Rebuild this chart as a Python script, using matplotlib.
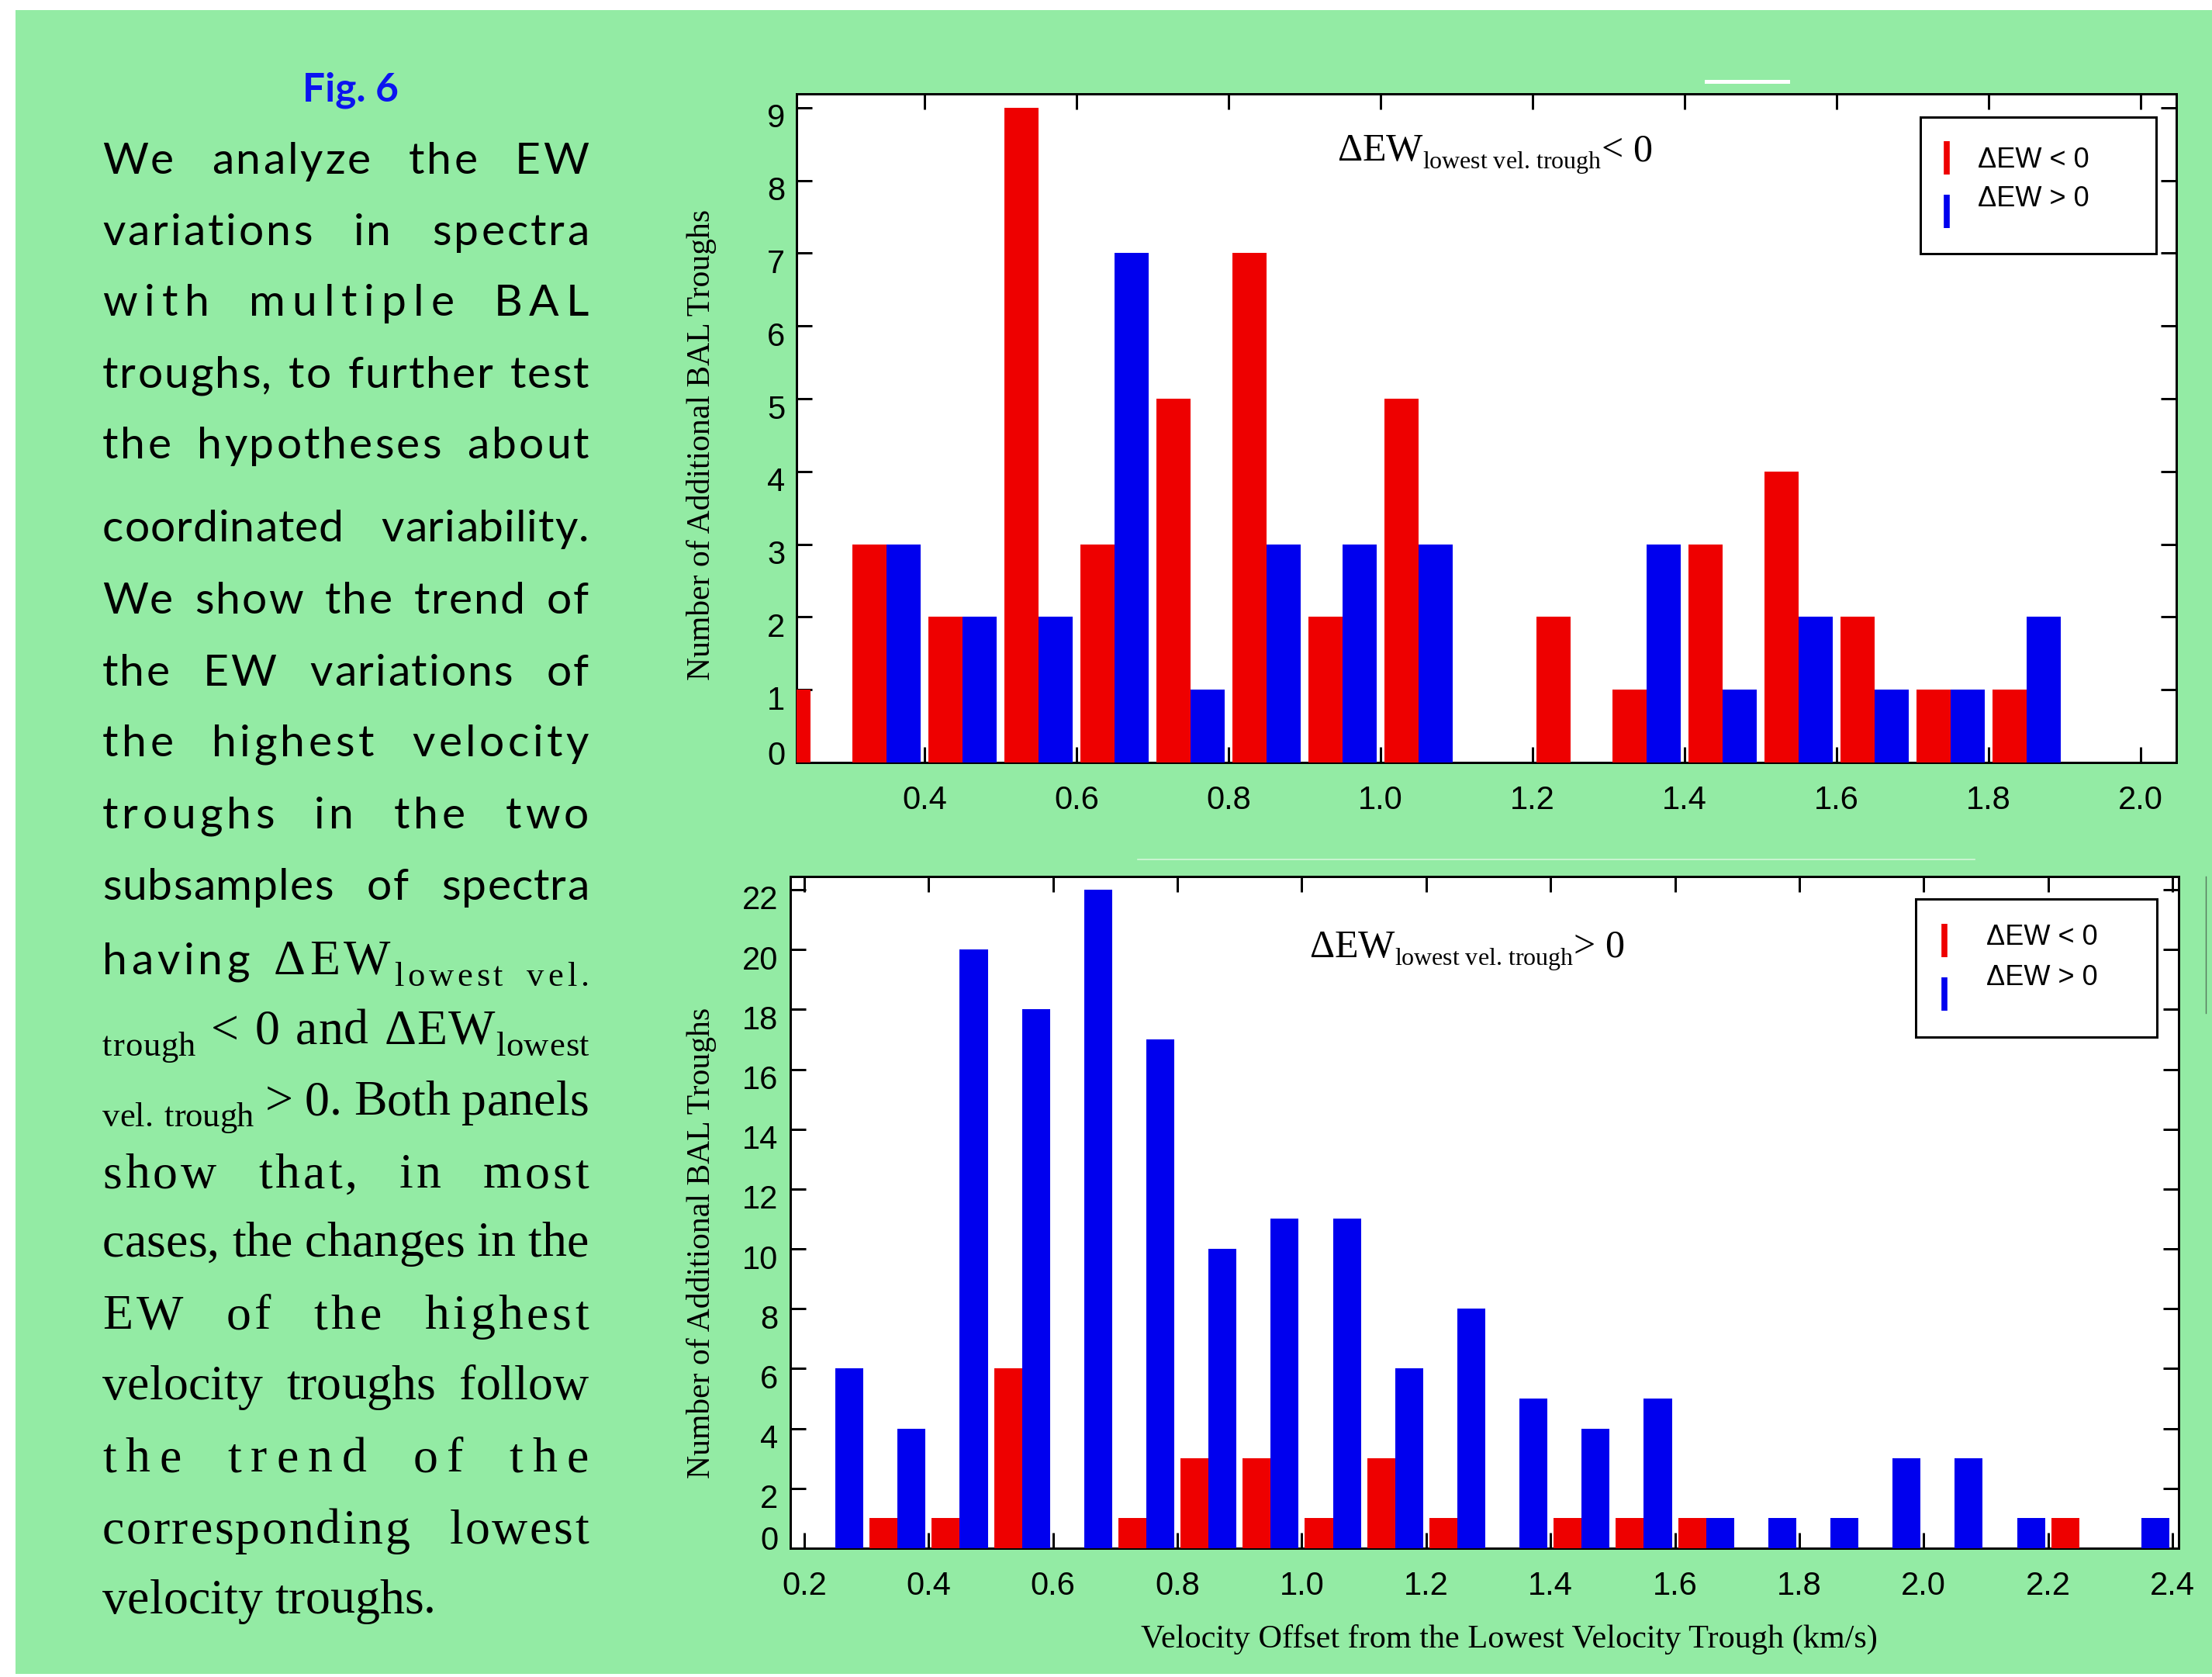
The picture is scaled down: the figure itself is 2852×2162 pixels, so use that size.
import matplotlib
matplotlib.use('Agg')
import matplotlib.pyplot as plt
import numpy as np
from matplotlib.transforms import Affine2D, ScaledTranslation
from matplotlib.patches import Rectangle
from matplotlib.lines import Line2D
from matplotlib import font_manager as fm
from matplotlib.ft2font import FT2Font

# ---- data ----
top_centers = [0.25, 0.35, 0.45, 0.55, 0.65, 0.75, 0.85, 0.95, 1.05,
               1.15, 1.25, 1.35, 1.45, 1.55, 1.65, 1.75, 1.85, 1.95]
top_neg = [1, 3, 2, 9, 3, 5, 7, 2, 5, 0, 2, 1, 3, 4, 2, 1, 1, 0]
top_pos = [0, 3, 2, 2, 7, 1, 3, 3, 3, 0, 0, 3, 1, 2, 1, 1, 2, 0]

bot_centers = [0.25, 0.35, 0.45, 0.55, 0.65, 0.75, 0.85, 0.95, 1.05, 1.15, 1.25,
               1.35, 1.45, 1.55, 1.65, 1.75, 1.85, 1.95, 2.05, 2.15, 2.25, 2.35]
bot_neg = [0, 1, 1, 6, 0, 1, 3, 3, 1, 3, 1, 0, 1, 1, 1, 0, 0, 0, 0, 0, 1, 0]
bot_pos = [6, 4, 20, 18, 22, 17, 10, 11, 11, 6, 8, 5, 4, 5, 1, 1, 1, 3, 3, 1, 0, 1]

top_xticks = [0.4, 0.6, 0.8, 1.0, 1.2, 1.4, 1.6, 1.8, 2.0]
top_yticks = [0, 1, 2, 3, 4, 5, 6, 7, 8, 9]
bot_xticks = [0.2, 0.4, 0.6, 0.8, 1.0, 1.2, 1.4, 1.6, 1.8, 2.0, 2.2, 2.4]
bot_yticks = [0, 2, 4, 6, 8, 10, 12, 14, 16, 18, 20, 22]

legend_labels = ['\u0394EW < 0', '\u0394EW > 0']
ylabel = 'Number of Additional BAL Troughs'
xlabel = 'Velocity Offset from the Lowest Velocity Trough (km/s)'

RED = '#ee0000'
BLUE = '#0000ee'
GREEN = '#93eba4'
bw = 0.045

W, H = 2852, 2162
fig = plt.figure(figsize=(W / 100, H / 100), dpi=100, facecolor='white')
# pixel coords, origin top-left
px = Affine2D().scale(1 / W, -1 / H).translate(0, 1) + fig.transFigure

fig.add_artist(Rectangle((20, 13), W - 20, H - 17, transform=px,
                         facecolor=GREEN, edgecolor='none', zorder=-5))
# small artefacts of the original slide
fig.add_artist(Line2D([2200, 2305], [105, 105], transform=px, color='white', lw=3.6))
fig.add_artist(Line2D([1467, 2546], [1108, 1108], transform=px, color='#d4f7da', lw=1.2))
fig.add_artist(Line2D([2844, 2844], [1130, 1306], transform=px, color='#55775c', lw=1.0))


def style_axes(ax, xticks, yticks, xlim, ylim, ypad):
    ax.set_xlim(*xlim)
    ax.set_ylim(*ylim)
    ax.set_xticks(xticks)
    ax.set_xticklabels(['%.1f' % v for v in xticks])
    ax.set_yticks(yticks)
    ax.set_yticklabels([str(v) for v in yticks])
    ax.tick_params(direction='in', length=14.4, width=2.16, top=True, right=True,
                   labelsize=30, labelfontfamily='Liberation Sans')
    ax.tick_params(axis='x', pad=21.0)
    ax.tick_params(axis='y', pad=ypad)
    for s in ax.spines.values():
        s.set_linewidth(2.16)
    for lab in ax.get_yticklabels():
        dy = 13 if lab.get_text() == '0' else -10
        lab.set_transform(lab.get_transform() + ScaledTranslation(0, dy / 100, fig.dpi_scale_trans))


ax1 = fig.add_axes([1027 / W, (H - 983) / H, 1779 / W, 862 / H])
ax1.bar(np.array(top_centers) - bw, top_neg, width=bw, align='edge', color=RED, zorder=3)
ax1.bar(np.array(top_centers), top_pos, width=bw, align='edge', color=BLUE, zorder=3)
style_axes(ax1, top_xticks, top_yticks, (0.2316, 2.047), (0, 9.19), 10.5)

ax2 = fig.add_axes([1019 / W, (H - 1996) / H, 1790 / W, 866 / H])
ax2.bar(np.array(bot_centers) - bw, bot_neg, width=bw, align='edge', color=RED, zorder=3)
ax2.bar(np.array(bot_centers), bot_pos, width=bw, align='edge', color=BLUE, zorder=3)
style_axes(ax2, bot_xticks, bot_yticks, (0.1776, 2.410), (0, 22.44), 11.5)

_fonts = {}


def adv(ch, fam, size):
    if fam not in _fonts:
        _fonts[fam] = FT2Font(fm.findfont(fm.FontProperties(family=fam)), hinting_factor=1)
    f = _fonts[fam]
    f.set_size(size, 100)
    return f.load_char(ord(ch)).linearHoriAdvance / 65536


def draw_runs(x, y, runs):
    # runs: (text, family, size, baseline shift in px)
    for text, fam, size, dy in runs:
        for c in text:
            fig.text(x, y + dy, c, transform=px, ha='left', va='baseline',
                     family=fam, fontsize=size, color='black')
            x += adv(c, fam, size)


SER = 'Liberation Serif'
# titles inside panels
draw_runs(1724, 207, [('\u0394EW', SER, 36, 0), ('lowest vel. trough', SER, 23, 10),
                      ('<', SER, 36, 0), (' 0', SER, 36, 0)])
draw_runs(1688, 1234, [('\u0394EW', SER, 36, 0), ('lowest vel. trough', SER, 23, 10),
                       ('>', SER, 36, 0), (' 0', SER, 36, 0)])

# axis labels
for yc in (573, 1602):
    fig.text(905, yc, ylabel, transform=px, rotation=90, ha='center', va='center',
             family=SER, fontsize=30)
fig.text(1946, 2124, xlabel, transform=px, ha='center', va='baseline',
         family=SER, fontsize=30.4)


def legend(box, mx, marks, tx, tys):
    x0, y0, x1, y1 = box
    fig.add_artist(Rectangle((x0, y0), x1 - x0, y1 - y0, transform=px, facecolor='white',
                             edgecolor='black', lw=2.16, zorder=5))
    for (m0, m1), col in zip(marks, (RED, BLUE)):
        fig.add_artist(Line2D([mx, mx], [m0, m1], transform=px, color=col, lw=5.5,
                              solid_capstyle='butt', zorder=6))
    for ty, lab in zip(tys, legend_labels):
        fig.text(tx, ty, lab, transform=px, ha='left', va='center', fontsize=26,
                 family='Liberation Sans', zorder=6)


legend((2476, 151, 2780, 327), 2510, [(182, 225), (251, 294)], 2550, [207, 257])
legend((2470, 1159, 2781, 1337), 2507, [(1191, 1234), (1260, 1303)], 2561, [1208, 1260])

# ---- left text column ----
fig.text(452, 130, 'Fig. 6', transform=px, ha='center', va='baseline', fontsize=37,
         fontweight='bold', family='Lato', color='#0b14f0')

STY = {
    'sans': ('Lato', 41, 0),
    'serif': (SER, 46, 0),
    'sub': (SER, 32, 15),
}

LINES = [
    (224, 3, 'sans', "We analyze the EW"),
    (316, 3, 'sans', "variations in spectra"),
    (407, 9, 'sans', "with multiple BAL"),
    (500, 2, 'sans', "troughs, to further test"),
    (591, 3, 'sans', "the hypotheses about"),
    (698, 1, 'sans', "coordinated variability."),
    (791, 2, 'sans', "We show the trend of"),
    (884, 2, 'sans', "the EW variations of"),
    (975, 4.5, 'sans', "the highest velocity"),
    (1068, 5, 'sans', "troughs in the two"),
    (1160, 1, 'sans', "subsamples of spectra"),
    (1256, 5, None, [[("having", 'sans')], [("\u0394EW", 'serif'), ("lowest", 'sub')],
                     [("vel.", 'sub')]]),
    (1346, 1, None, [[("trough", 'sub')], [("<", 'serif')], [("0", 'serif')],
                     [("and", 'serif')], [("\u0394EW", 'serif'), ("lowest", 'sub')]]),
    (1437, 0, None, [[("vel.", 'sub')], [("trough", 'sub')], [(">", 'serif')],
                     [("0.", 'serif')], [("Both", 'serif')], [("panels", 'serif')]]),
    (1531, 4, 'serif', "show that, in most"),
    (1619, 0, 'serif', "cases, the changes in the"),
    (1713, 4.5, 'serif', "EW of the highest"),
    (1804, 0, 'serif', "velocity troughs follow"),
    (1897, 12, 'serif', "the trend of the"),
    (1990, 2.5, 'serif', "corresponding lowest"),
    (2080, 0, 'serif', "velocity troughs."),
]
X0, X1 = 132, 759


def sadv(c, k):
    fam, size, _ = STY[k]
    return adv(c, fam, size)


for i, (yb, track, key, spec) in enumerate(LINES):
    if isinstance(spec, str):
        words = [[(w, key)] for w in spec.split()]
    else:
        words = spec
    chars = [[(c, k) for (t, k) in w for c in t] for w in words]
    glyphs = sum(sadv(c, k) for w in chars for c, k in w)
    inner = sum(len(w) - 1 for w in chars)
    if i == len(LINES) - 1:
        gap = sadv(' ', chars[0][0][1])
    else:
        gap = (X1 - X0 - glyphs - track * inner) / (len(chars) - 1)
        if gap < 12:
            track = max(0, (X1 - X0 - glyphs - 12 * (len(chars) - 1)) / max(inner, 1))
            gap = (X1 - X0 - glyphs - track * inner) / (len(chars) - 1)
    x = X0
    for w in chars:
        for j, (c, k) in enumerate(w):
            fam, size, dy = STY[k]
            fig.text(x, yb + dy, c, transform=px, ha='left', va='baseline',
                     family=fam, fontsize=size, color='black')
            x += sadv(c, k) + (track if j < len(w) - 1 else 0)
        x += gap

fig.savefig('out.png', dpi=100, facecolor=fig.get_facecolor())
